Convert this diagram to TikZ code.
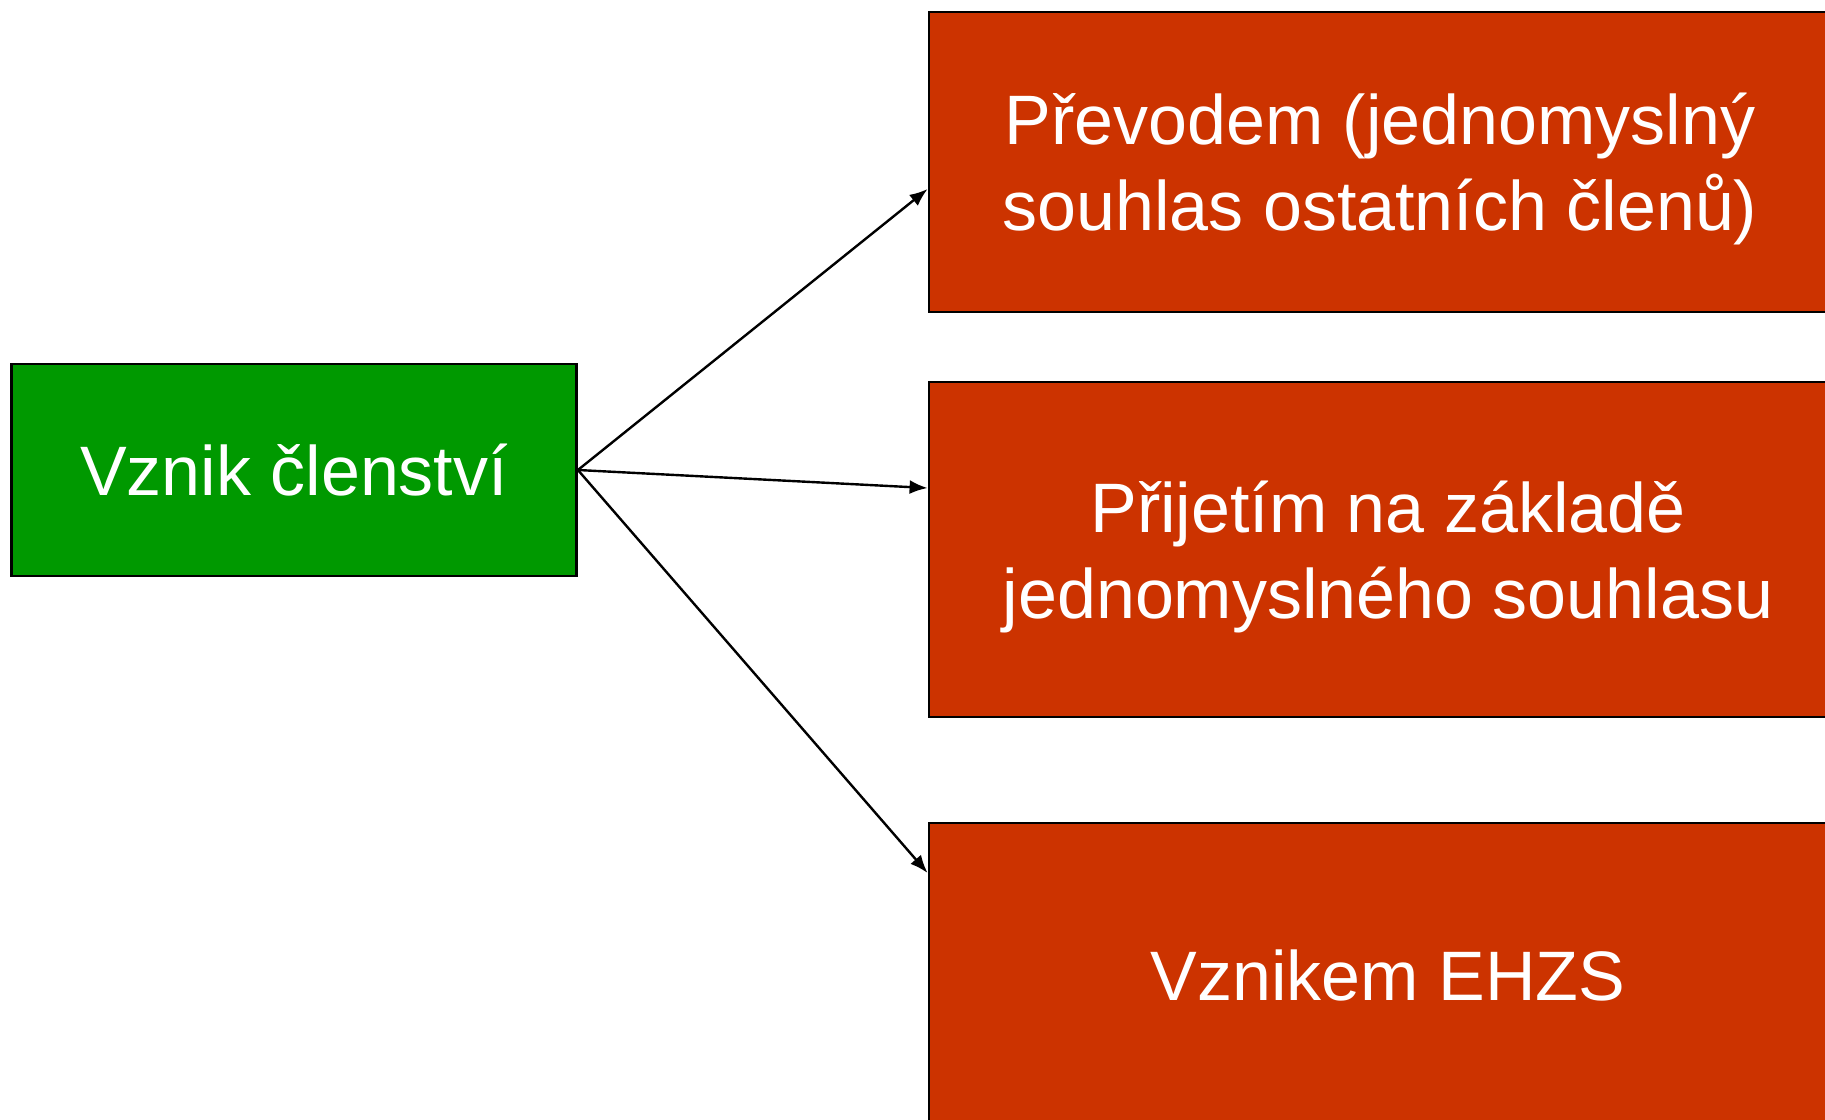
\documentclass[tikz,border=0pt]{standalone}
\usepackage{fontspec}
\setmainfont{Liberation Sans}
\usetikzlibrary{arrows.meta,calc}
\definecolor{boxgreen}{HTML}{009900}
\definecolor{boxred}{HTML}{CC3300}
\tikzset{
  box/.style={draw=black, line width=2.8pt, inner sep=0pt, minimum width=#1},
  greenbox/.style={box=565pt, fill=boxgreen},
  redbox/.style={box=918pt, fill=boxred},
  boxtext/.style={text=white, align=center, inner sep=0pt,
    font=\fontsize{70}{86}\selectfont},
  conn/.style={draw=black, line width=2.4pt, -{Latex[length=18pt,width=14pt]}}
}
\begin{document}
\begin{tikzpicture}[x=1pt,y=-1pt]
\useasboundingbox (0,0) rectangle (1825,1119);
\clip (0,0) rectangle (1825,1119);
\node[greenbox, minimum height=212pt] (start) at (294,470) {};
\node[boxtext] (startT) at (start.center) {Vznik členství};
\node[redbox, minimum height=300pt] (prevod) at (1388,162) {};
\node[boxtext] (prevodT) at ($(prevod.center)+(-8,7)$) {Převodem (jednomyslný\\souhlas ostatních členů)};
\node[redbox, minimum height=335pt] (prijeti) at (1388,549.5) {};
\node[boxtext] (prijetiT) at ($(prijeti.center)+(0,7)$) {Přijetím na základě\\jednomyslného souhlasu};
\node[redbox, minimum height=304pt] (vznik) at (1388,975) {};
\node[boxtext] (vznikT) at (vznik.center) {Vznikem EHZS};
\coordinate (e1) at ($(prevod.west)+(0,27)$);
\coordinate (e2) at ($(prijeti.west)+(0,-61.5)$);
\coordinate (e3) at ($(vznik.west)+(0,-102)$);
\draw[conn] (start.east) -- (e1);
\draw[conn] (start.east) -- (e2);
\draw[conn] (start.east) -- (e3);
\end{tikzpicture}
\end{document}
